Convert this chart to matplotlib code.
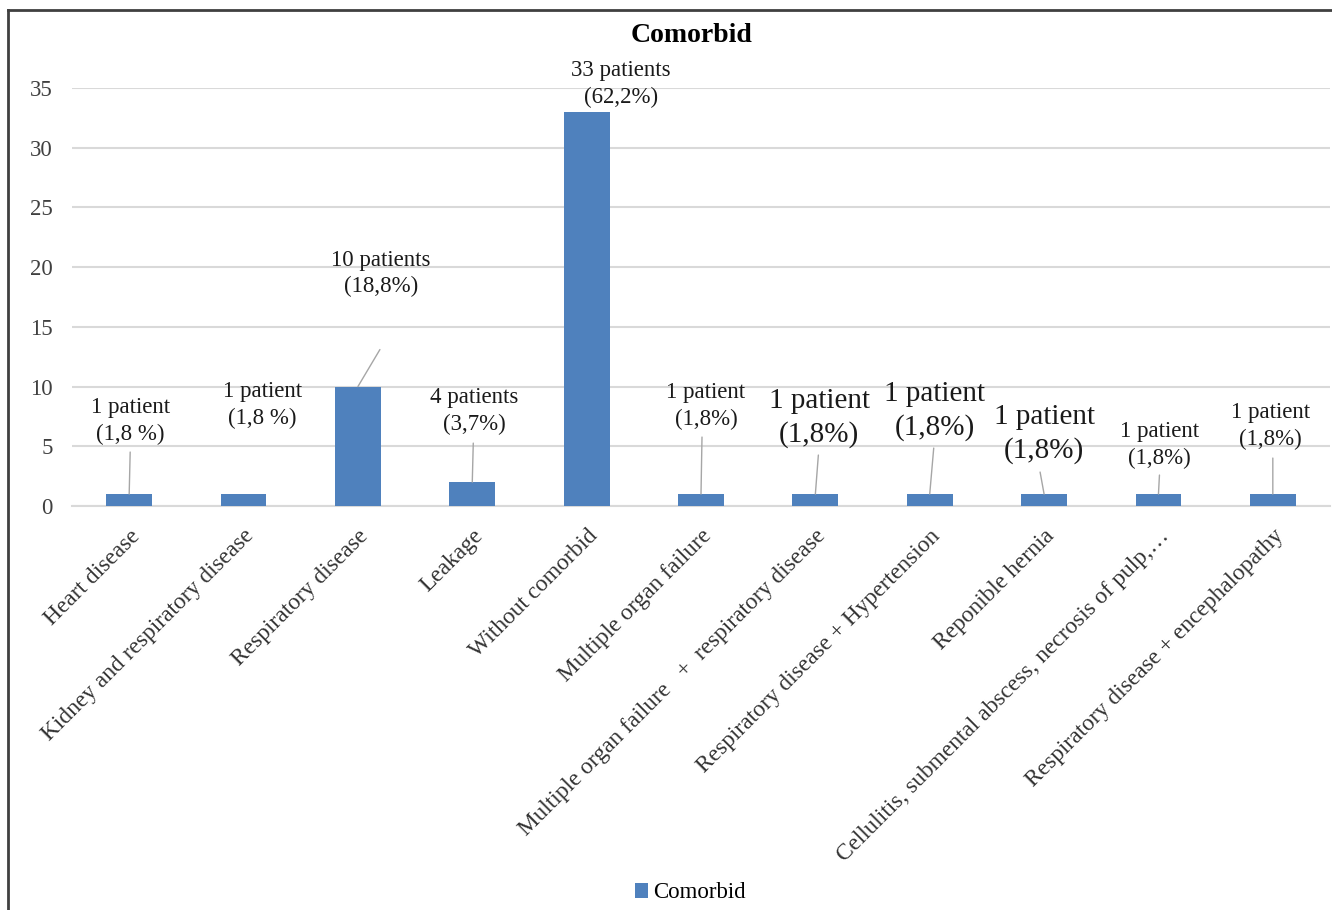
import numpy as np
import matplotlib.pyplot as plt
from matplotlib.lines import Line2D

plt.rcParams['font.family'] = ['Liberation Serif', 'DejaVu Serif']

categories = ['Heart disease', 'Kidney and respiratory disease', 'Respiratory disease',
              'Leakage', 'Without comorbid', 'Multiple organ failure',
              'Multiple organ failure   +  respiratory disease',
              'Respiratory disease + Hypertension', 'Reponible hernia',
              'Cellulitis, submental abscess, necrosis of pulp,\u2026',
              'Respiratory disease + encephalopathy']
patients = [1, 1, 10, 2, 33, 1, 1, 1, 1, 1, 1]
bar_labels = ['1 patient\n(1,8 %)', '1 patient\n(1,8 %)', '10 patients\n(18,8%)',
              '4 patients\n(3,7%)', '33 patients\n(62,2%)', '1 patient\n(1,8%)',
              '1 patient\n(1,8%)', '1 patient\n(1,8%)', '1 patient\n(1,8%)',
              '1 patient\n(1,8%)', '1 patient\n(1,8%)']
yticks = [0, 5, 10, 15, 20, 25, 30, 35]

# label placement (pixels from bar top), leader line start, font sizes
text_off = [(1, 73), (19, 89), (23, 113), (2, 71), (34, 28), (5, 88),
            (4, 76), (5, 83), (0, 60), (1, 49), (-2, 68)]
leader_off = [(1, 42), None, (22, 37), (1, 39), None, (1, 57),
              (3, 39), (4, 46), (-4, 22), (1, 19), (0, 36)]
label_size = [16.5, 16.5, 16.5, 16.5, 16.5, 16.5, 21, 21, 21, 16.5, 16.5]

W, H = 1332, 910
fig = plt.figure(figsize=(W / 100, H / 100), dpi=100)
ax = fig.add_axes([72 / W, 1 - 506 / H, (1330 - 72) / W, (506 - 88) / H])

x = np.arange(len(categories))
ax.bar(x, patients, width=0.4, color='#4F81BD', label='Comorbid', zorder=3)

ax.set_xlim(-0.5, len(categories) - 0.5)
ax.set_ylim(0, 35)
ax.set_yticks(yticks)
ax.grid(axis='y', color='#d9d9d9', linewidth=1.5, zorder=0)
for s in ['top', 'right', 'left']:
    ax.spines[s].set_visible(False)
ax.spines['bottom'].set_color('#d9d9d9')
ax.spines['bottom'].set_linewidth(1.5)
ax.tick_params(axis='y', length=0, pad=14, labelsize=16.5, labelcolor='#404040')
ax.tick_params(axis='x', length=0, pad=14)
ax.set_xticks(x)
ax.set_xticklabels(categories, rotation=45, ha='right', rotation_mode='anchor',
                   fontsize=16.8, color='#333333')

for i, v in enumerate(patients):
    ax.annotate(bar_labels[i], xy=(i, v), xytext=text_off[i], textcoords='offset pixels',
                ha='center', va='center', fontsize=label_size[i], color='#1a1a1a',
                linespacing=1.35)
    if leader_off[i] is not None:
        ax.annotate('', xy=(i, v), xytext=leader_off[i], textcoords='offset pixels',
                    arrowprops=dict(arrowstyle='-', color='#a6a6a6', lw=1,
                                    shrinkA=0, shrinkB=0))

fig.text(692 / W, 1 - 35 / H, 'Comorbid', ha='center', va='center',
         fontsize=20, fontweight='bold')

fig.legend(loc='center', bbox_to_anchor=(690 / W, 1 - 893 / H), frameon=False,
           fontsize=16.5, handlelength=0.6, handleheight=0.6, handletextpad=0.2)

# chart frame
fig.add_artist(Line2D([8 / W, 8 / W], [0, 1 - 10 / H], transform=fig.transFigure,
                      color='#404040', lw=2))
fig.add_artist(Line2D([8 / W, 1], [1 - 10 / H, 1 - 10 / H], transform=fig.transFigure,
                      color='#404040', lw=2))

fig.savefig('out.png', dpi=100)
